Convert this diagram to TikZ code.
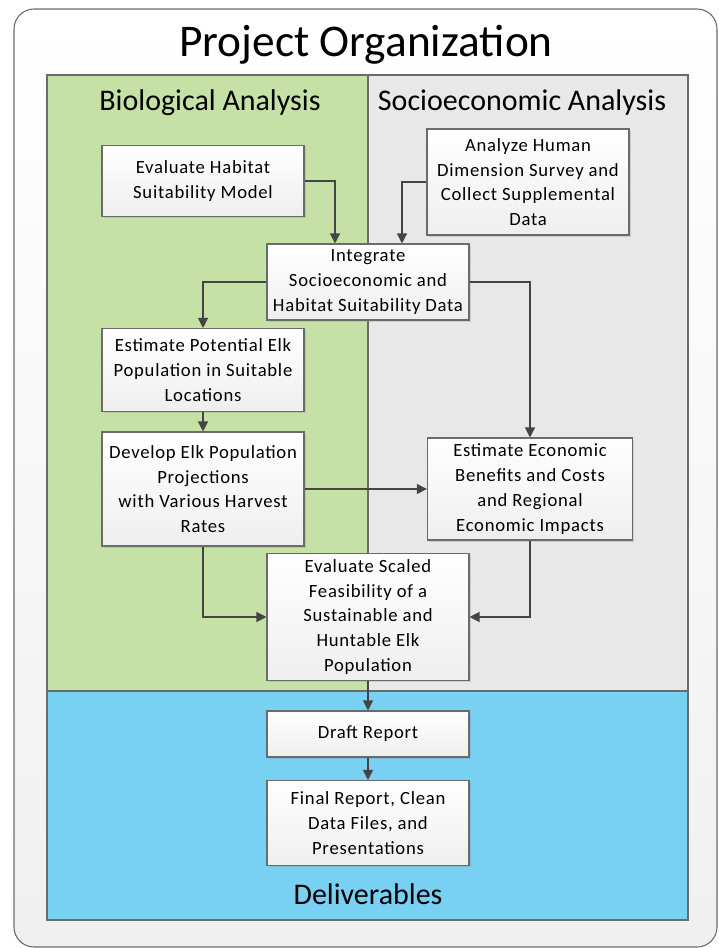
\documentclass[tikz,border=0pt]{standalone}
\usepackage{fontspec}
\setmainfont{Carlito}
\newfontfamily\taskfont{Carlito}[LetterSpace=4]
\usetikzlibrary{arrows.meta,shadows}

\definecolor{bioGreen}{HTML}{C5E1A5}
\definecolor{socGray}{HTML}{E8E8E8}
\definecolor{delBlue}{HTML}{78D0F2}
\definecolor{edgeGray}{HTML}{6B6B6B}
\definecolor{flowGray}{HTML}{444444}

\begin{document}
\begin{tikzpicture}[x=0.75pt,y=-0.75pt,
  panel/.style={draw=edgeGray,line width=0.8pt},
  head/.style={font=\fontsize{22.5}{26}\selectfont},
  task/.style={draw=edgeGray,line width=0.8pt,top color=white,bottom color=gray!13,
    minimum width=151.5pt,align=center,inner sep=2pt,
    font=\taskfont\fontsize{14}{18.6}\selectfont,
    drop shadow={shadow xshift=1.2pt,shadow yshift=-1.2pt,opacity=0.25,fill=gray}},
  flow/.style={draw=flowGray,line width=0.9pt,-{Triangle[length=7.5pt,width=7.5pt]}}]
\useasboundingbox (0,0) rectangle (718,948);
% outer frame and panels
\draw[draw=edgeGray,line width=0.8pt,rounded corners=15pt,top color=white,bottom color=gray!12]
  (14,9) rectangle (717,947);
\filldraw[panel,fill=bioGreen] (47,75) rectangle (368,691);
\filldraw[panel,fill=socGray] (368,75) rectangle (688,691);
\filldraw[panel,fill=delBlue] (47,691) rectangle (688,920);

\node[font=\fontsize{34}{38}\selectfont] (title) at (366,45) {Project Organization};
\node[head] (bio) at (210,103) {Biological Analysis};
\node[head] (soc) at (522,103) {Socioeconomic Analysis};
\node[head] (deliv) at (368,894) {Deliverables};

% tasks
\node[task,minimum height=53.25pt] (habitat) at (203,181) {Evaluate Habitat\\Suitability Model};
\node[task,minimum height=79.5pt] (survey) at (528,182) {Analyze Human\\Dimension Survey and\\Collect Supplemental\\Data};
\node[task,minimum height=57pt] (integrate) at (368,282) {Integrate\\Socioeconomic and\\Habitat Suitability Data};
\node[task,minimum height=62.25pt] (potential) at (203,370) {Estimate Potential Elk\\Population in Suitable\\Locations};
\node[task,minimum height=85.5pt] (develop) at (203,489) {Develop Elk Population\\Projections\\with Various Harvest\\Rates};
\node[task,minimum height=76.5pt,minimum width=154pt] (economic) at (530,489) {Estimate Economic\\Benefits and Costs\\and Regional\\Economic Impacts};
\node[task,minimum height=95.25pt] (scaled) at (368,617) {Evaluate Scaled\\Feasibility of a\\Sustainable and\\Huntable Elk\\Population};
\node[task,minimum height=34.5pt] (draft) at (368,734) {Draft Report};
\node[task,minimum height=63.75pt] (final) at (368,823) {Final Report, Clean\\Data Files, and\\Presentations};

% connectors
\draw[flow] (habitat.east) -| ([xshift=-24.75pt]integrate.north);
\draw[flow] (survey.west) -| ([xshift=25.5pt]integrate.north);
\draw[flow] (integrate.west) -| (potential.north);
\draw[flow] (integrate.east) -| (economic.north);
\draw[flow] (develop.east) -- (economic.west);
\draw[flow] (develop.south) |- (scaled.west);
\draw[flow] (economic.south) |- (scaled.east);
\foreach \a/\b in {potential/develop,scaled/draft,draft/final}
  \draw[flow] (\a) -- (\b);
\end{tikzpicture}
\end{document}
